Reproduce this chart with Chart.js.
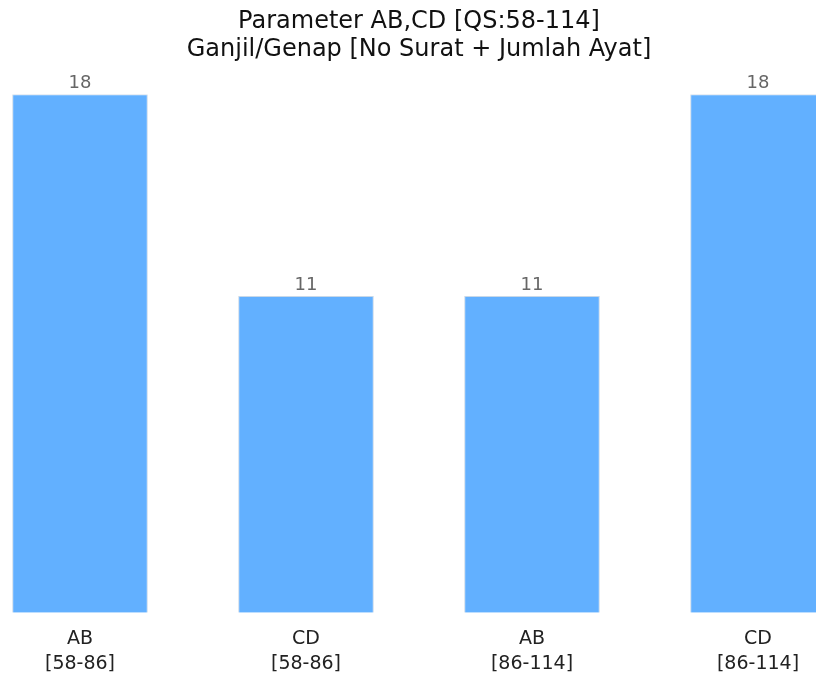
<!DOCTYPE html>
<html>
<head>
<meta charset="utf-8">
<script src="https://cdn.jsdelivr.net/npm/chart.js@4"></script>
<style>
  html, body { margin: 0; padding: 0; background: #fff; overflow: hidden; }
  body { width: 816px; height: 679px; position: relative; overflow: hidden; }
  #wrap { position: absolute; left: -33px; top: 0; width: 904px; height: 690px; }
</style>
</head>
<body>
<div id="wrap"><canvas id="chart"></canvas></div>
<script>
// Данные графика
const categories = [['AB', '[58-86]'], ['CD', '[58-86]'], ['AB', '[86-114]'], ['CD', '[86-114]']];
const values = [18, 11, 11, 18];
const titleLines = ['Parameter AB,CD [QS:58-114]', 'Ganjil/Genap [No Surat + Jumlah Ayat]'];

// Подписи значений над столбцами
const valueLabels = {
    id: 'valueLabels',
    afterDatasetsDraw(chart) {
        const ctx = chart.ctx;
        const meta = chart.getDatasetMeta(0);
        ctx.save();
        ctx.font = '18px "DejaVu Sans"';
        ctx.fillStyle = '#666666';
        ctx.textAlign = 'center';
        ctx.textBaseline = 'bottom';
        meta.data.forEach((bar, i) => {
            ctx.fillText(values[i], bar.x, bar.y - 2);
        });
        ctx.restore();
    }
};

new Chart('chart', {
    type: 'bar',
    data: {
        labels: categories,
        datasets: [{
            data: values,
            backgroundColor: '#62b0ff',
            borderColor: '#c8d8e8',
            borderWidth: 1,
            barPercentage: 0.6,
            categoryPercentage: 1
        }]
    },
    options: {
        responsive: true,
        maintainAspectRatio: false,
        animation: false,
        layout: { padding: { top: 8, bottom: 7, left: 0, right: 0 } },
        plugins: {
            legend: { display: false },
            tooltip: { enabled: false },
            title: {
                display: true,
                text: titleLines,
                color: '#111111',
                font: { family: 'DejaVu Sans', size: 24, weight: 'normal', lineHeight: 1.15 },
                padding: { top: 0, bottom: 31 }
            }
        },
        scales: {
            x: {
                grid: { display: false },
                border: { display: false },
                ticks: {
                    color: '#222222',
                    padding: 6,
                    font: { family: 'DejaVu Sans', size: 19, lineHeight: 1.32 }
                }
            },
            y: {
                display: false,
                min: 0,
                max: 18
            }
        }
    },
    plugins: [valueLabels]
});
</script>
</body>
</html>
